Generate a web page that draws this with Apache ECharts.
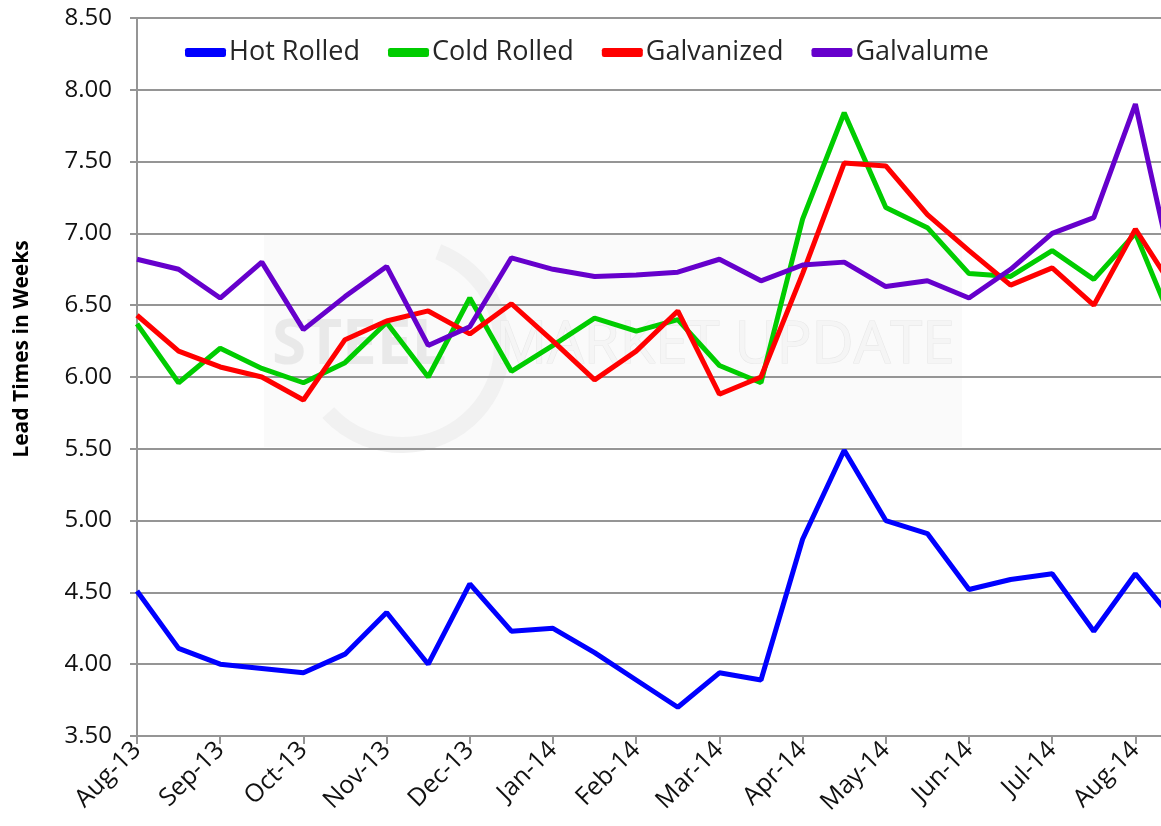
<!DOCTYPE html>
<html>
<head>
<meta charset="utf-8">
<title>Lead Times in Weeks</title>
<script src="https://cdn.jsdelivr.net/npm/echarts@6/dist/echarts.min.js"></script>
<style>
  html, body { margin: 0; padding: 0; background: #fff; }
  #chart { width: 1161px; height: 826px; }
</style>
</head>
<body>
<div id="chart"></div>
<script>
// Month labels; two survey readings per month
const months = ['Aug-13', 'Sep-13', 'Oct-13', 'Nov-13', 'Dec-13', 'Jan-14', 'Feb-14',
                'Mar-14', 'Apr-14', 'May-14', 'Jun-14', 'Jul-14', 'Aug-14'];

// Lead times in weeks, one value per reading
const hotRolled  = [4.51, 4.11, 4.00, 3.97, 3.94, 4.07, 4.36, 4.00, 4.56, 4.23, 4.25, 4.08, 3.89,
                    3.70, 3.94, 3.89, 4.87, 5.49, 5.00, 4.91, 4.52, 4.59, 4.63, 4.23, 4.63, 4.28];
const coldRolled = [6.37, 5.96, 6.20, 6.06, 5.96, 6.10, 6.38, 6.00, 6.55, 6.04, 6.22, 6.41, 6.32,
                    6.40, 6.08, 5.96, 7.10, 7.84, 7.18, 7.04, 6.72, 6.70, 6.88, 6.68, 7.00, 6.30];
const galvanized = [6.43, 6.18, 6.07, 6.00, 5.84, 6.26, 6.39, 6.46, 6.30, 6.51, 6.25, 5.98, 6.18,
                    6.46, 5.88, 6.00, 6.72, 7.49, 7.47, 7.13, 6.88, 6.64, 6.76, 6.50, 7.03, 6.58];
const galvalume  = [6.82, 6.75, 6.55, 6.80, 6.33, 6.56, 6.77, 6.22, 6.35, 6.83, 6.75, 6.70, 6.71,
                    6.73, 6.82, 6.67, 6.78, 6.80, 6.63, 6.67, 6.55, 6.75, 7.00, 7.11, 7.90, 6.60];

const yTicks = { min: 3.5, max: 8.5, step: 0.5 };

// First and mid-month reading for every month
const categories = months.flatMap(m => [m, m + ' mid']);

const FONT = '"Open Sans", "Noto Sans", sans-serif';
const GRID_COLOR = '#959595';

function lineSeries(name, data, color) {
  return {
    name: name,
    type: 'line',
    data: data,
    symbol: 'none',
    lineStyle: { color: color, width: 5 },
    itemStyle: { color: color },
    z: 3
  };
}

const chart = echarts.init(document.getElementById('chart'), null, { renderer: 'canvas' });

chart.setOption({
  animation: false,
  backgroundColor: '#ffffff',
  textStyle: { fontFamily: FONT },
  grid: {
    left: 137,
    right: -16,
    top: 18,
    bottom: 90,
    outerBoundsMode: 'none',
    containLabel: false
  },
  legend: {
    left: 185,
    top: 39,
    padding: 0,
    itemWidth: 41,
    itemHeight: 9,
    itemGap: 28,
    icon: 'roundRect',
    textStyle: { fontFamily: FONT, fontSize: 27, color: '#262626', padding: [0, 0, 0, -2] },
    data: ['Hot Rolled', 'Cold Rolled', 'Galvanized', 'Galvalume']
  },
  xAxis: {
    type: 'category',
    data: categories,
    boundaryGap: false,
    axisLine: { show: true, lineStyle: { color: GRID_COLOR, width: 2 } },
    axisTick: { show: true, interval: 1, length: 8, lineStyle: { color: GRID_COLOR, width: 2 } },
    axisLabel: {
      interval: 1,
      rotate: 45,
      margin: 10,
      fontFamily: FONT,
      fontSize: 25,
      color: '#111',
      formatter: v => v
    },
    splitLine: { show: false }
  },
  yAxis: {
    type: 'value',
    min: yTicks.min,
    max: yTicks.max,
    interval: yTicks.step,
    axisLine: { show: true, lineStyle: { color: GRID_COLOR, width: 2 } },
    axisTick: { show: true, length: 7, lineStyle: { color: GRID_COLOR, width: 2 } },
    axisLabel: {
      margin: 25,
      fontFamily: FONT,
      fontSize: 24,
      color: '#111',
      formatter: v => v.toFixed(2)
    },
    splitLine: { show: true, lineStyle: { color: GRID_COLOR, width: 2 } }
  },
  graphic: [
    // faint publisher watermark behind the plot
    {
      type: 'group',
      z: -10,
      silent: true,
      children: [
        { type: 'rect', shape: { x: 264, y: 234, width: 698, height: 213 },
          style: { fill: '#fafafa' }, z: -10 },
        { type: 'arc', shape: { cx: 402, cy: 345, r: 100, startAngle: -1.2, endAngle: 2.4, clockwise: true },
          style: { stroke: '#f1f1f1', lineWidth: 16, fill: null }, z: -9 },
        { type: 'text', x: 272, y: 346,
          style: { text: 'STEEL', fontFamily: FONT, fontSize: 62, fontWeight: 'bold',
                   fill: '#e9e9e9', textVerticalAlign: 'middle' }, z: -9 },
        { type: 'text', x: 495, y: 346,
          style: { text: 'MARKET UPDATE', fontFamily: FONT, fontSize: 58,
                   fill: '#f5f5f5', stroke: '#e8e8e8', lineWidth: 1.2, textVerticalAlign: 'middle' }, z: -9 }
      ]
    },
    {
      type: 'text',
      x: 22,
      y: 349,
      rotation: Math.PI / 2,
      style: {
        text: 'Lead Times in Weeks',
        fontFamily: FONT,
        fontSize: 21,
        fontWeight: 'bold',
        fill: '#000',
        textAlign: 'center',
        textVerticalAlign: 'middle'
      }
    }
  ],
  series: [
    lineSeries('Hot Rolled', hotRolled, '#0000ff'),
    lineSeries('Cold Rolled', coldRolled, '#00cc00'),
    lineSeries('Galvanized', galvanized, '#ff0000'),
    lineSeries('Galvalume', galvalume, '#6600cc')
  ]
});
</script>
</body>
</html>
